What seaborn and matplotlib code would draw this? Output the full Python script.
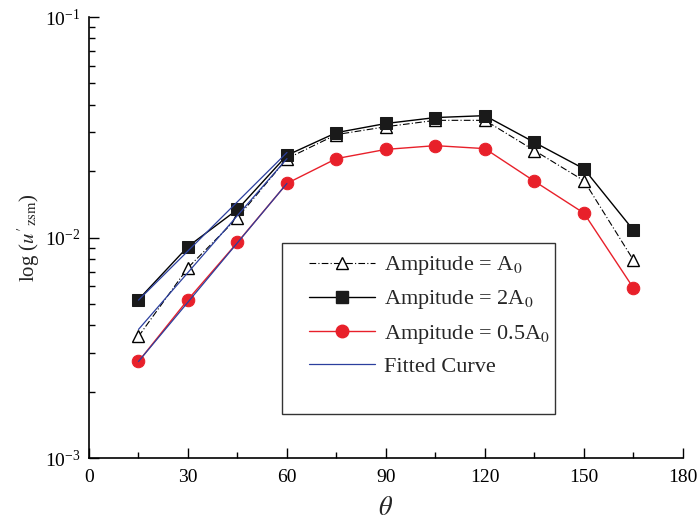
import numpy as np
import pandas as pd
import matplotlib
matplotlib.use("Agg")
import matplotlib.pyplot as plt
from matplotlib.lines import Line2D
from matplotlib.patches import Rectangle
import seaborn as sns

# Measured response vs. angle for three excitation amplitudes
theta = [15, 30, 45, 60, 75, 90, 105, 120, 135, 150, 165]
amp_a0 = [0.00356, 0.0073, 0.0123, 0.0228, 0.0293, 0.0318, 0.0340, 0.0340, 0.0248, 0.0181, 0.0079]
amp_2a0 = [0.00523, 0.0091, 0.0134, 0.0236, 0.0299, 0.0329, 0.0350, 0.0357, 0.0270, 0.0205, 0.0108]
amp_05a0 = [0.00274, 0.00523, 0.0095, 0.0176, 0.0228, 0.0251, 0.0261, 0.0253, 0.0180, 0.0129, 0.0059]

# Exponential fits over the rising part (values at the ends of the fit range)
fit_theta = [15, 60]
fit_a0 = [0.00383, 0.0228]
fit_2a0 = [0.0052, 0.0243]
fit_05a0 = [0.00274, 0.0176]

labels = [r"Ampitude = A$_0$", r"Ampitude = 2A$_0$", r"Ampitude = 0.5A$_0$", "Fitted Curve"]
x_ticks = [0, 30, 60, 90, 120, 150, 180]

sns.set_theme(style="ticks")
plt.rcParams["font.family"] = ["Liberation Serif", "DejaVu Serif"]
plt.rcParams["mathtext.fontset"] = "stix"
plt.rcParams["axes.unicode_minus"] = False

fig = plt.figure(figsize=(6.99, 5.30), dpi=100)
ax = fig.add_axes([0.1273, 0.1358, 0.8497, 0.8321])

df = pd.DataFrame({"theta": theta, "a0": amp_a0, "2a0": amp_2a0, "05a0": amp_05a0})
fit_df = pd.DataFrame({"theta": fit_theta, "a0": fit_a0, "2a0": fit_2a0, "05a0": fit_05a0})

sns.lineplot(data=df, x="theta", y="a0", ax=ax, color="black", lw=0.8,
             linestyle=(0, (6, 2, 1, 2)), marker="^", markersize=9,
             markerfacecolor="white", markeredgecolor="black", markeredgewidth=1.0)
sns.lineplot(data=df, x="theta", y="2a0", ax=ax, color="black", lw=1.0,
             marker="s", markersize=8, markerfacecolor="#1a1a1a",
             markeredgecolor="#1a1a1a")
sns.lineplot(data=df, x="theta", y="05a0", ax=ax, color="#e8202a", lw=1.0,
             marker="o", markersize=9, markerfacecolor="#e8202a",
             markeredgecolor="#e8202a")
for col in ["a0", "2a0", "05a0"]:
    sns.lineplot(data=fit_df, x="theta", y=col, ax=ax, color="#2b3f9e", lw=0.9)

ax.set_yscale("log")
ax.set_xlim(0, 180)
ax.set_ylim(1e-3, 1e-1)
ax.set_xticks(x_ticks)
ax.set_xticks(np.arange(15, 180, 30), minor=True)
ax.tick_params(axis="both", which="both", direction="in", colors="black",
               labelsize=14, width=1.0)
ax.tick_params(axis="both", which="major", length=7)
ax.tick_params(axis="both", which="minor", length=4)
ax.tick_params(axis="x", pad=8)
ax.tick_params(axis="y", pad=6)
for s in ["top", "right"]:
    ax.spines[s].set_visible(False)
for s in ["left", "bottom"]:
    ax.spines[s].set_color("black")
    ax.spines[s].set_linewidth(1.2)

ax.set_xlabel(r"$\theta$", fontsize=19, labelpad=8)
ax.set_ylabel(r"log ($\mathit{u}'_{\mathrm{zsm}}$)", fontsize=15, labelpad=2)

# Legend box
ax.add_patch(Rectangle((0.325, 0.10), 0.46, 0.388, transform=ax.transAxes,
                       fill=False, edgecolor="#333333", lw=1.0, zorder=5))
handles = [
    Line2D([], [], color="black", lw=0.8, linestyle=(0, (6, 2, 1, 2)), marker="^",
           markersize=9, markerfacecolor="white", markeredgecolor="black"),
    Line2D([], [], color="black", lw=1.0, marker="s", markersize=8,
           markerfacecolor="#1a1a1a", markeredgecolor="#1a1a1a"),
    Line2D([], [], color="#e8202a", lw=1.0, marker="o", markersize=9,
           markerfacecolor="#e8202a", markeredgecolor="#e8202a"),
    Line2D([], [], color="#2b3f9e", lw=0.9),
]
ax.legend(handles, labels, loc="upper left", bbox_to_anchor=(0.355, 0.482),
          frameon=False, fontsize=16, handlelength=3.0, handletextpad=0.4,
          labelspacing=0.5, borderaxespad=0)

fig.savefig("out.png", dpi=100)
